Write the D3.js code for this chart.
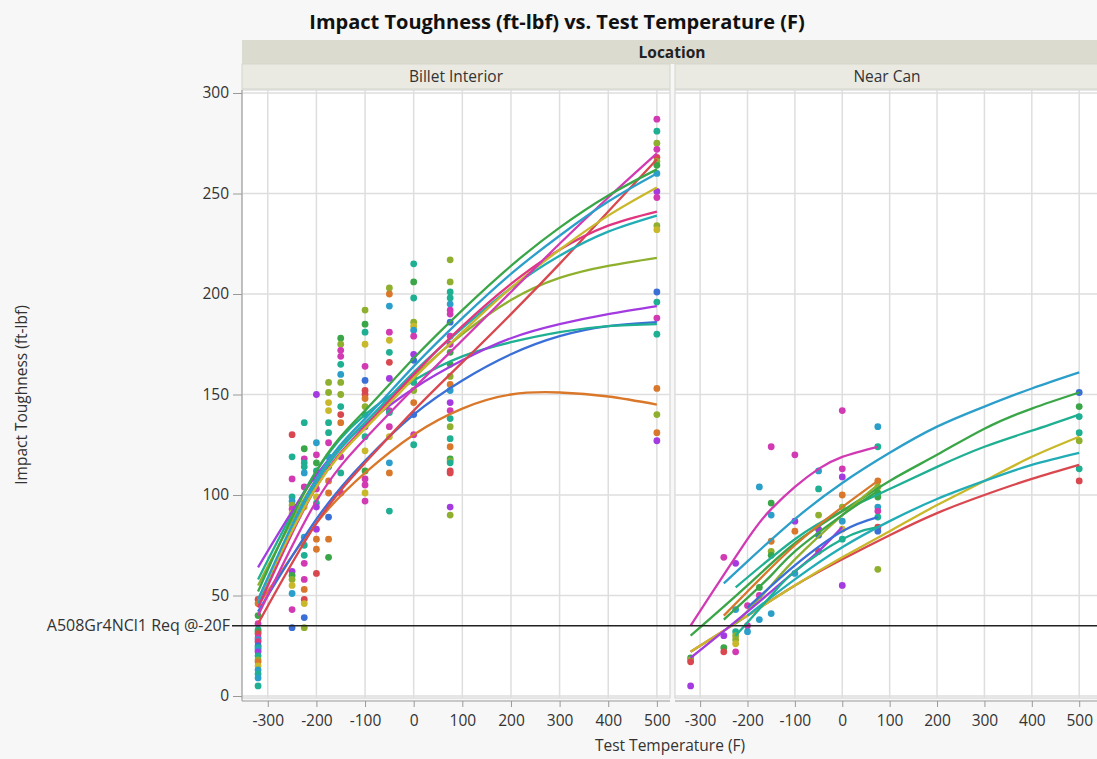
<!DOCTYPE html>
<html lang="en">
<head>
  <meta charset="UTF-8">
  <script src="https://cdn.jsdelivr.net/npm/d3@7"></script>
  <style>
    body { margin: 0; background: #f7f7f7; }
    text { font-family: "Open Sans", "Noto Sans", sans-serif; }
  </style>
</head>
<body>
<div id="container"></div>
<script>
// colours used by the groups (JMP-like palette)
const colors = {
  blue: "#3a6fd8", orange: "#d9782a", red: "#d9484f", green: "#3aa648",
  teal: "#1faf92", cyan: "#2b9fca", purple: "#a33be0", magenta: "#d23ab4",
  olive: "#8fb02e", yellow: "#c9b82a", pink: "#e0367f", aqua: "#22adb6"
};

const panels = ["Billet Interior", "Near Can"];
const xTicks = [-300, -200, -100, 0, 100, 200, 300, 400, 500];
const yTicks = [0, 50, 100, 150, 200, 250, 300];
const reqValue = 35;
const reqLabel = "A508Gr4NCl1 Req @-20F";

// Billet Interior observations: [temp, toughness, colour]
const billetPoints = [
  [-320,48,"red"],[-320,46,"orange"],[-320,40,"green"],[-320,36,"magenta"],[-320,33,"teal"],[-320,32,"green"],
  [-320,31,"red"],[-320,29,"magenta"],[-320,28,"cyan"],[-320,27,"pink"],[-320,25,"blue"],[-320,24,"teal"],
  [-320,23,"cyan"],[-320,22,"purple"],[-320,20,"teal"],[-320,18,"olive"],[-320,17,"orange"],[-320,15,"yellow"],
  [-320,13,"cyan"],[-320,11,"teal"],[-320,9,"cyan"],[-320,5,"teal"],
  [-250,130,"red"],[-250,119,"teal"],[-250,108,"magenta"],[-250,99,"teal"],[-250,97,"cyan"],[-250,95,"olive"],
  [-250,93,"magenta"],[-250,91,"yellow"],[-250,62,"purple"],[-250,60,"green"],[-250,58,"olive"],[-250,55,"yellow"],
  [-250,51,"cyan"],[-250,43,"magenta"],[-250,34,"blue"],
  [-225,136,"teal"],[-225,123,"green"],[-225,118,"magenta"],[-225,116,"teal"],[-225,114,"teal"],[-225,111,"cyan"],
  [-225,104,"magenta"],[-225,96,"olive"],[-225,94,"yellow"],[-225,79,"cyan"],[-225,75,"teal"],[-225,70,"teal"],
  [-225,66,"magenta"],[-225,58,"magenta"],[-225,53,"orange"],[-225,48,"red"],[-225,46,"yellow"],[-225,39,"blue"],
  [-225,34,"olive"],
  [-200,150,"purple"],[-200,126,"cyan"],[-200,120,"magenta"],[-200,116,"green"],[-200,112,"teal"],[-200,107,"cyan"],
  [-200,103,"magenta"],[-200,99,"yellow"],[-200,96,"teal"],[-200,94,"purple"],[-200,83,"purple"],[-200,78,"orange"],
  [-200,73,"orange"],[-200,61,"red"],
  [-175,156,"olive"],[-175,151,"olive"],[-175,146,"yellow"],[-175,142,"yellow"],[-175,136,"teal"],[-175,131,"teal"],
  [-175,126,"magenta"],[-175,119,"cyan"],[-175,114,"blue"],[-175,107,"orange"],[-175,101,"orange"],[-175,89,"blue"],
  [-175,78,"orange"],[-175,69,"green"],
  [-150,178,"green"],[-150,175,"olive"],[-150,172,"magenta"],[-150,169,"magenta"],[-150,165,"teal"],[-150,160,"cyan"],
  [-150,156,"olive"],[-150,150,"olive"],[-150,144,"teal"],[-150,140,"red"],[-150,136,"orange"],[-150,119,"magenta"],
  [-150,111,"teal"],[-150,101,"magenta"],
  [-100,192,"olive"],[-100,185,"green"],[-100,181,"teal"],[-100,175,"yellow"],[-100,164,"magenta"],[-100,157,"blue"],
  [-100,152,"red"],[-100,150,"red"],[-100,148,"orange"],[-100,144,"olive"],[-100,140,"teal"],[-100,134,"purple"],
  [-100,129,"teal"],[-100,122,"yellow"],[-100,112,"green"],[-100,108,"magenta"],[-100,105,"magenta"],[-100,101,"yellow"],
  [-100,97,"magenta"],
  [-50,203,"olive"],[-50,200,"orange"],[-50,194,"cyan"],[-50,181,"magenta"],[-50,177,"yellow"],[-50,171,"teal"],
  [-50,166,"red"],[-50,158,"purple"],[-50,142,"magenta"],[-50,141,"teal"],[-50,134,"magenta"],[-50,129,"yellow"],
  [-50,116,"cyan"],[-50,111,"orange"],[-50,92,"teal"],
  [0,215,"teal"],[0,206,"green"],[0,198,"teal"],[0,186,"olive"],[0,184,"yellow"],[0,182,"cyan"],[0,179,"magenta"],
  [0,170,"purple"],[0,167,"blue"],[0,159,"cyan"],[0,156,"teal"],[0,152,"olive"],[0,146,"orange"],[0,140,"blue"],
  [0,130,"magenta"],[0,125,"teal"],
  [75,217,"olive"],[75,206,"olive"],[75,201,"teal"],[75,198,"teal"],[75,195,"cyan"],[75,192,"magenta"],[75,190,"magenta"],
  [75,186,"blue"],[75,179,"magenta"],[75,175,"magenta"],[75,171,"green"],[75,165,"green"],[75,159,"olive"],
  [75,155,"orange"],[75,152,"cyan"],[75,146,"purple"],[75,142,"magenta"],[75,138,"teal"],[75,134,"olive"],
  [75,128,"teal"],[75,124,"orange"],[75,118,"green"],[75,117,"olive"],[75,116,"teal"],[75,112,"red"],[75,111,"red"],
  [75,94,"purple"],[75,90,"olive"],
  [500,287,"magenta"],[500,281,"teal"],[500,275,"olive"],[500,272,"magenta"],[500,268,"red"],[500,266,"olive"],
  [500,264,"green"],[500,260,"cyan"],[500,251,"purple"],[500,248,"magenta"],[500,234,"olive"],[500,232,"yellow"],
  [500,201,"blue"],[500,196,"teal"],[500,188,"magenta"],[500,180,"teal"],[500,153,"orange"],[500,140,"olive"],
  [500,131,"orange"],[500,127,"purple"]
];

// Near Can observations
const nearCanPoints = [
  [-320,19,"green"],[-320,18,"olive"],[-320,17,"red"],[-320,5,"purple"],
  [-250,69,"magenta"],[-250,30,"purple"],[-250,24,"green"],[-250,22,"red"],
  [-225,66,"purple"],[-225,43,"cyan"],[-225,32,"teal"],[-225,30,"olive"],[-225,28,"olive"],[-225,26,"yellow"],[-225,22,"magenta"],
  [-200,45,"magenta"],[-200,35,"magenta"],[-200,32,"cyan"],
  [-175,104,"cyan"],[-175,54,"green"],[-175,50,"magenta"],[-175,38,"cyan"],
  [-150,124,"magenta"],[-150,96,"green"],[-150,90,"cyan"],[-150,77,"orange"],[-150,72,"olive"],[-150,70,"green"],[-150,41,"cyan"],
  [-100,120,"magenta"],[-100,87,"purple"],[-100,82,"orange"],[-100,61,"cyan"],
  [-50,112,"cyan"],[-50,103,"teal"],[-50,90,"olive"],[-50,83,"purple"],[-50,80,"blue"],[-50,72,"red"],
  [0,142,"magenta"],[0,113,"magenta"],[0,109,"purple"],[0,100,"orange"],[0,94,"olive"],[0,87,"cyan"],[0,83,"yellow"],
  [0,78,"teal"],[0,55,"purple"],
  [75,134,"cyan"],[75,124,"teal"],[75,107,"orange"],[75,104,"olive"],[75,101,"green"],[75,99,"green"],[75,94,"cyan"],
  [75,92,"magenta"],[75,89,"teal"],[75,84,"red"],[75,82,"blue"],[75,63,"olive"],
  [500,151,"blue"],[500,144,"green"],[500,139,"teal"],[500,131,"teal"],[500,127,"olive"],[500,113,"teal"],[500,107,"red"]
];

// fitted curves: temps + values per group
const billetFitTemps = [-320, -200, -100, 0, 100, 200, 300, 400, 500];
const billetFits = [
  { c: "orange",  v: [45, 86, 111, 130, 143, 150, 151, 149, 145] },
  { c: "blue",    v: [42, 88, 117, 140, 157, 170, 179, 184, 186] },
  { c: "teal",    v: [58, 112, 140, 157, 169, 176, 181, 184, 185] },
  { c: "purple",  v: [64, 110, 135, 153, 167, 178, 185, 190, 194] },
  { c: "olive",   v: [55, 108, 136, 159, 180, 197, 208, 214, 218] },
  { c: "red",     v: [36, 86, 116, 142, 166, 190, 215, 241, 267] },
  { c: "aqua",    v: [46, 106, 136, 161, 183, 203, 219, 231, 239] },
  { c: "pink",    v: [44, 104, 134, 160, 184, 205, 222, 234, 241] },
  { c: "yellow",  v: [48, 104, 133, 158, 181, 203, 222, 239, 253] },
  { c: "magenta", v: [40, 97, 128, 153, 177, 201, 225, 248, 270] },
  { c: "cyan",    v: [48, 108, 138, 164, 188, 210, 229, 246, 260] },
  { c: "green",   v: [52, 112, 142, 168, 192, 214, 233, 249, 262] }
];

const nearCanFits = [
  { c: "red",     t: [-320, -200, -100, 0, 100, 200, 300, 400, 500], v: [22, 40, 55, 68, 80, 91, 100, 108, 115] },
  { c: "yellow",  t: [-320, -200, -100, 0, 100, 200, 300, 400, 500], v: [22, 40, 55, 69, 82, 95, 107, 119, 129] },
  { c: "aqua",    t: [-200, -100, 0, 100, 200, 300, 400, 500], v: [40, 58, 74, 87, 98, 107, 115, 121] },
  { c: "teal",    t: [-225, -100, 0, 100, 200, 300, 400, 500], v: [54, 78, 92, 103, 114, 124, 132, 140] },
  { c: "green",   t: [-320, -200, -100, 0, 100, 200, 300, 400, 500], v: [30, 55, 76, 92, 107, 120, 133, 143, 151] },
  { c: "cyan",    t: [-250, -200, -100, 0, 100, 200, 300, 400, 500], v: [56, 67, 88, 106, 121, 134, 144, 153, 161] },
  { c: "magenta", t: [-320, -200, -150, -100, -50, 0, 75], v: [35, 78, 93, 104, 113, 119, 124] },
  { c: "orange",  t: [-250, -200, -100, 0, 75], v: [40, 52, 75, 94, 107] },
  { c: "olive",   t: [-225, -150, -100, 0, 75], v: [36, 55, 68, 90, 105] },
  { c: "green",   t: [-250, -150, -100, 0, 75], v: [38, 60, 72, 90, 102] },
  { c: "purple",  t: [-320, -200, -100, -50, 0], v: [19, 42, 62, 72, 84] },
  { c: "blue",    t: [-200, -100, 0, 75], v: [44, 65, 82, 89] },
  { c: "teal",    t: [-225, -150, -100, 0, 75], v: [30, 50, 62, 78, 84] }
];

const width = 1097, height = 759;
const plotTop = 90, plotBottom = 698;
const panelX = [[242, 670], [675, 1092]];
const xDomain = [-353, 527];
const fontSans = "'Open Sans', 'Noto Sans', sans-serif";

const svg = d3.create("svg").attr("width", width).attr("height", height)
    .style("background", "#f7f7f7");

const y = d3.scaleLinear().domain([0, 300]).range([696, 93]);

// title
svg.append("text").attr("x", 557).attr("y", 29).attr("text-anchor", "middle")
    .attr("font-size", 20).attr("font-weight", "bold").attr("fill", "#111")
    .text("Impact Toughness (ft-lbf) vs. Test Temperature (F)");

// strips
svg.append("rect").attr("x", 242).attr("y", 40).attr("width", width - 242).attr("height", 24).attr("fill", "#dcdbd0");
svg.append("text").attr("x", 672).attr("y", 58).attr("text-anchor", "middle")
    .attr("font-size", 15.5).attr("font-weight", "bold").attr("fill", "#222").text("Location");

const defs = svg.append("defs");

panels.forEach((name, i) => {
  const [x0, x1] = panelX[i];
  const right = i ? width : x1;
  const x = d3.scaleLinear().domain(xDomain).range([x0, x1]);

  svg.append("rect").attr("x", x0).attr("y", 64).attr("width", (i ? width + 10 : x1) - x0).attr("height", 25)
      .attr("fill", "#eaeae3").attr("stroke", "#d6d5cb");
  svg.append("text").attr("x", i ? 887 : 456).attr("y", 82)
      .attr("text-anchor", "middle").attr("font-size", 15.5).attr("fill", "#333").text(name);

  svg.append("rect").attr("x", x0).attr("y", plotTop).attr("width", (i ? width + 10 : x1) - x0)
      .attr("height", plotBottom - plotTop).attr("fill", "#fff").attr("stroke", "#cfcfcf");

  // grid
  const g = svg.append("g");
  g.selectAll(".gx").data(xTicks).join("line")
      .attr("x1", d => x(d)).attr("x2", d => x(d)).attr("y1", plotTop).attr("y2", plotBottom)
      .attr("stroke", "#dedede").attr("stroke-width", 1.5);
  g.selectAll(".gy").data(yTicks).join("line")
      .attr("x1", x0).attr("x2", right).attr("y1", d => y(d)).attr("y2", d => y(d))
      .attr("stroke", "#dedede").attr("stroke-width", 1.5);

  // x axis
  const ax = svg.append("g").attr("transform", `translate(0,${plotBottom + 3})`)
      .call(d3.axisBottom(x).tickValues(xTicks).tickFormat(d => String(d)).tickSize(6).tickSizeOuter(0));
  ax.select(".domain").attr("stroke", "#999").attr("d", `M${x0},0H${right}`);
  ax.selectAll(".tick line").attr("stroke", "#999");
  ax.selectAll("text").attr("font-size", 15.5).attr("fill", "#333").attr("dy", "1.0em")
      .style("font-family", fontSans);

  const clipId = "clip" + i;
  defs.append("clipPath").attr("id", clipId).append("rect")
      .attr("x", x0).attr("y", plotTop).attr("width", right - x0).attr("height", plotBottom - plotTop);

  const layer = svg.append("g").attr("clip-path", `url(#${clipId})`);
  const pts = i === 0 ? billetPoints : nearCanPoints;
  layer.selectAll("circle").data(pts).join("circle")
      .attr("cx", d => x(d[0])).attr("cy", d => y(d[1])).attr("r", 3.4)
      .attr("fill", d => colors[d[2]]);

  const line = d3.line().x(d => x(d[0])).y(d => y(d[1])).curve(d3.curveNatural);
  const fits = i === 0
      ? billetFits.map(f => ({ c: f.c, p: billetFitTemps.map((t, k) => [t, f.v[k]]) }))
      : nearCanFits.map(f => ({ c: f.c, p: f.t.map((t, k) => [t, f.v[k]]) }));
  layer.selectAll("path.fit").data(fits).join("path").attr("class", "fit")
      .attr("d", d => line(d.p)).attr("fill", "none")
      .attr("stroke", d => colors[d.c]).attr("stroke-width", 2.3);
});

// y axis
const ay = svg.append("g").attr("transform", "translate(242,0)")
    .call(d3.axisLeft(y).tickValues(yTicks).tickSize(9).tickSizeOuter(0));
ay.select(".domain").attr("stroke", "#999").attr("d", `M0,${plotTop}V${plotBottom + 3}`);
ay.selectAll(".tick line").attr("stroke", "#999");
ay.selectAll("text").attr("font-size", 15.5).attr("fill", "#333").attr("dx", "-1px")
    .style("font-family", fontSans);

// requirement line
svg.append("line").attr("x1", 232).attr("x2", width).attr("y1", y(reqValue)).attr("y2", y(reqValue))
    .attr("stroke", "#222").attr("stroke-width", 1.5);
svg.append("text").attr("x", 230).attr("y", y(reqValue)).attr("dy", "0.35em").attr("text-anchor", "end")
    .attr("font-size", 16).attr("fill", "#333").text(reqLabel);

// axis titles
svg.append("text").attr("transform", "translate(27,395) rotate(-90)").attr("text-anchor", "middle")
    .attr("font-size", 15.5).attr("fill", "#333").text("Impact Toughness (ft-lbf)");
svg.append("text").attr("x", 670).attr("y", 751).attr("text-anchor", "middle")
    .attr("font-size", 15.5).attr("fill", "#333").text("Test Temperature (F)");

document.getElementById("container").appendChild(svg.node());
</script>
</body>
</html>
